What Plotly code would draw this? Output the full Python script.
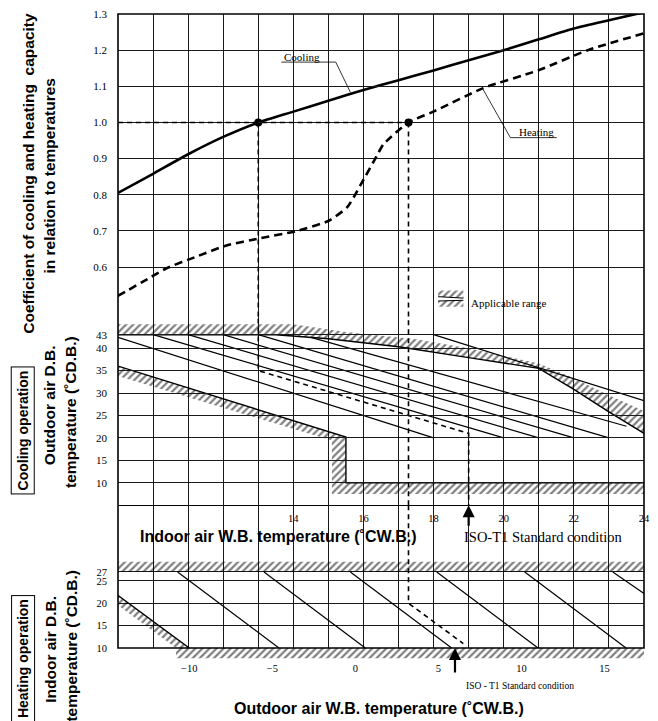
import plotly.graph_objects as go

# ---------------- data ----------------
# capacity coefficient curves
cool_wb = [9, 10, 11, 12, 13, 14, 15, 16, 17, 18, 19, 20, 21, 22, 23, 24]
cool_coef = [0.805, 0.858, 0.912, 0.960, 1.000, 1.030, 1.060, 1.090, 1.117, 1.144,
             1.172, 1.200, 1.230, 1.260, 1.283, 1.305]

heat_wb = [-14.3, -12.5, -11.4, -9.5, -7.8, -5.7, -3.6, -1.6, -0.5, -0.1, 0.4,
           1.3, 1.7, 3.2, 4.7, 7.7, 11.0, 14.0, 17.4]
heat_coef = [0.52, 0.567, 0.596, 0.630, 0.659, 0.680, 0.699, 0.728, 0.765, 0.793,
             0.834, 0.908, 0.940, 1.000, 1.030, 1.095, 1.144, 1.200, 1.247]

# standard points (coefficient 1.0)
cool_std_wb, heat_std_wb, std_coef = 13.0, 3.2, 1.0

# cooling operation: indoor W.B. vs outdoor D.B.
cool_line_wb0 = [9.0, 10.0, 11.0, 12.0, 13.0, 14.5, 18.0]
cool_line_t0 = [42.4, 43, 43, 43, 43, 42.4, 43]
cool_line_wb1 = [18.0, 20.0, 21.0, 22.0, 23.0, 23.5, 24.0]
cool_line_t1 = [20, 20, 20, 20, 20, 22.6, 28.3]

cool_upper_wb = [9, 13.5, 15, 17, 19, 21, 22, 23, 24]
cool_upper_t = [43, 43, 42.1, 40.3, 37.9, 35.5, 30.8, 25.8, 21]
cool_upper_edge_wb = [24, 23, 22, 21, 19, 17.5, 15.5, 14, 9]
cool_upper_edge_t = [26.0, 29.5, 33.3, 36.6, 40.0, 42.0, 43.6, 45.3, 45.3]

cool_lower_wb = [9, 15.5, 15.5, 24]
cool_lower_t = [36, 20.2, 10, 10]
cool_lower_edge_wb = [24, 15.1, 15.1, 9]
cool_lower_edge_t = [7.5, 7.5, 19.4, 33.8]

cool_guide_wb = [13, 13, 19, 19]
cool_guide_t = [46.6, 35, 21, 5]
cool_iso_wb = 19

# heating operation: outdoor W.B. vs indoor D.B.
heat_line_wb0 = [-10.7, -5.5, -0.3, 4.9, 10.2, 15.5]
heat_line_t0 = [27, 27, 27, 27, 27, 27]
heat_line_wb1 = [-4.6, 0.6, 5.8, 11.0, 16.3, 17.38]
heat_line_t1 = [10, 10, 10, 10, 10, 22.2]

heat_bound_wb = [-14.3, -10.0]
heat_bound_t = [21.8, 10]
heat_bound_edge_wb = [-10.8, -14.3]
heat_bound_edge_t = [10, 19.6]

heat_top_t, heat_top_edge_t = 27, 29.3
heat_guide_wb = [3.2, 3.2, 6.5]
heat_guide_t = [41.9, 20, 11]
heat_iso_wb = 6

coef_ticks = [0.6, 0.7, 0.8, 0.9, 1.0, 1.1, 1.2, 1.3]
cool_t_ticks = [5, 10, 15, 20, 25, 30, 35, 40, 43]
heat_t_ticks = [10, 15, 20, 25, 27]
indoor_ticks = list(range(9, 25))
indoor_labels = {14, 16, 18, 20, 22, 24}
outdoor_ticks = [-10, -5, 0, 5, 10, 15]

# ---------------- layout geometry (page pixels) ----------------
W, H = 658, 721
LEFT, RIGHT, TOP, BOTTOM = 118, 650, 13, 660
Y_COEF = [0.4575, 1.3001]
Y_COOL = [5, 46.6]
Y_HEAT = [10, 41.9]
X_IN = [9, 24.0001]
X_OUT = [-14.29, 17.38]


def fx(p):
    return (p - LEFT) / (RIGHT - LEFT)


def fy(p):
    return (BOTTOM - p) / (BOTTOM - TOP)


SERIF = "Liberation Serif, Times New Roman, serif"
SANS = "Liberation Sans, Arial, sans-serif"


def segments(x0, y0, x1, y1, xa, ya, width=1.2, dash="solid"):
    xs, ys = [], []
    for a, b, c, d in zip(x0, y0, x1, y1):
        xs += [a, c, None]
        ys += [b, d, None]
    return go.Scatter(x=xs, y=ys, mode="lines", xaxis=xa, yaxis=ya, hoverinfo="skip",
                      line=dict(color="black", width=width, dash=dash))


def line(xs, ys, xa, ya, width=1.4, dash="solid"):
    return go.Scatter(x=xs, y=ys, mode="lines", xaxis=xa, yaxis=ya, hoverinfo="skip",
                      line=dict(color="black", width=width, dash=dash))


def hatch(xs, ys, xa, ya):
    return go.Scatter(x=xs + xs[:1], y=ys + ys[:1], mode="lines", fill="toself",
                      xaxis=xa, yaxis=ya, hoverinfo="skip",
                      line=dict(width=0, color="rgba(0,0,0,0)"),
                      fillcolor="rgba(0,0,0,0)",
                      fillpattern=dict(shape="/", fgcolor="black", bgcolor="rgba(0,0,0,0)",
                                       size=5, solidity=0.45))


fig = go.Figure()

# empty trace so the indoor grid is drawn in the heating panel too
fig.add_trace(go.Scatter(x=X_IN, y=[Y_HEAT[0]] * 2, mode="lines", xaxis="x", yaxis="y3",
                         line=dict(width=0), hoverinfo="skip"))

# ---- cooling operation panel ----
fig.add_trace(hatch(cool_upper_wb + cool_upper_edge_wb, cool_upper_t + cool_upper_edge_t, "x", "y2"))
fig.add_trace(hatch(cool_lower_wb + cool_lower_edge_wb, cool_lower_t + cool_lower_edge_t, "x", "y2"))
fig.add_trace(line(cool_upper_wb, cool_upper_t, "x", "y2"))
fig.add_trace(line(cool_lower_wb, cool_lower_t, "x", "y2"))
fig.add_trace(segments(cool_line_wb0, cool_line_t0, cool_line_wb1, cool_line_t1, "x", "y2"))

# ---- heating operation panel ----
fig.add_trace(hatch([X_OUT[0], X_OUT[1], X_OUT[1], X_OUT[0]],
                    [heat_top_t, heat_top_t, heat_top_edge_t, heat_top_edge_t], "x2", "y3"))
fig.add_trace(hatch(heat_bound_wb + heat_bound_edge_wb, heat_bound_t + heat_bound_edge_t, "x2", "y3"))
fig.add_trace(hatch([heat_bound_edge_wb[0], X_OUT[1], X_OUT[1], heat_bound_edge_wb[0]],
                    [0.15, 0.15, 1, 1], "x2", "y4"))
fig.add_trace(line(heat_bound_wb, heat_bound_t, "x2", "y3"))
fig.add_trace(segments(heat_line_wb0, heat_line_t0, heat_line_wb1, heat_line_t1, "x2", "y3"))

# ---- guide lines (dashed) ----
GD = dict(width=1.6, dash="5px,4px")
fig.add_trace(line([X_OUT[0], heat_std_wb], [std_coef, std_coef], "x2", "y", **GD))
fig.add_trace(line([cool_std_wb, cool_std_wb], [std_coef, Y_COEF[0]], "x", "y", **GD))
fig.add_trace(line(cool_guide_wb, cool_guide_t, "x", "y2", **GD))
fig.add_trace(line([heat_std_wb, heat_std_wb], [std_coef, Y_COEF[0]], "x2", "y", **GD))
fig.add_trace(line([heat_std_wb, heat_std_wb], Y_COOL, "x2", "y2", **GD))
fig.add_trace(line(heat_guide_wb, heat_guide_t, "x2", "y3", **GD))

# ---- capacity curves ----
fig.add_trace(go.Scatter(x=cool_wb, y=cool_coef, mode="lines", xaxis="x", yaxis="y",
                         line=dict(color="black", width=2.6, shape="spline", smoothing=0.6),
                         hoverinfo="skip"))
fig.add_trace(go.Scatter(x=heat_wb, y=heat_coef, mode="lines", xaxis="x2", yaxis="y",
                         line=dict(color="black", width=2.6, dash="8px,5px", shape="spline",
                                   smoothing=0.6),
                         hoverinfo="skip"))
fig.add_trace(go.Scatter(x=[cool_std_wb], y=[std_coef], mode="markers", xaxis="x", yaxis="y",
                         marker=dict(color="black", size=8), hoverinfo="skip"))
fig.add_trace(go.Scatter(x=[heat_std_wb], y=[std_coef], mode="markers", xaxis="x2", yaxis="y",
                         marker=dict(color="black", size=8), hoverinfo="skip"))

# ---- "Applicable range" key ----
fig.add_trace(hatch([18.13, 18.85, 18.85, 18.13], [0.518, 0.514, 0.535, 0.535], "x", "y"))
fig.add_trace(hatch([18.13, 18.85, 18.85, 18.13], [0.506, 0.508, 0.490, 0.490], "x", "y"))
fig.add_trace(line([18.13, 18.85], [0.518, 0.514], "x", "y", width=1))
fig.add_trace(line([18.13, 18.85], [0.506, 0.508], "x", "y", width=1))

TICKFONT = dict(family=SERIF, size=11, color="black")
GRID = dict(showgrid=True, gridcolor="#1a1a1a", gridwidth=1, zeroline=False, ticks="")

fig.update_layout(
    width=W, height=H, autosize=False,
    margin=dict(l=LEFT, r=W - RIGHT, t=TOP, b=H - BOTTOM, pad=0),
    paper_bgcolor="white", plot_bgcolor="rgba(0,0,0,0)",
    showlegend=False,
    xaxis=dict(domain=[0, 1], range=X_IN, anchor="y2", tickvals=indoor_ticks,
               ticktext=[str(v) if v in indoor_labels else "" for v in indoor_ticks],
               tickfont=dict(family=SERIF, size=10.5, color="black"),
               showline=True, linecolor="black", linewidth=1.3, ticklabelstandoff=3, **GRID),
    xaxis2=dict(domain=[0, 1], range=X_OUT, anchor="y4", tickvals=outdoor_ticks,
                tickfont=dict(family=SERIF, size=10.5, color="black"),
                showgrid=False, zeroline=False, ticks="", showline=False),
    yaxis=dict(domain=[fy(318), 1], range=Y_COEF, anchor="x", tickvals=coef_ticks,
               ticktext=[f"{v:.1f}" for v in coef_ticks], tickfont=TICKFONT,
               ticklabelstandoff=10, **GRID),
    yaxis2=dict(domain=[fy(505), fy(318)], range=Y_COOL, anchor="x", tickvals=cool_t_ticks,
                ticktext=["" if v == 5 else str(v) for v in cool_t_ticks], tickfont=TICKFONT,
                ticklabelstandoff=10, **GRID),
    yaxis3=dict(domain=[fy(648), fy(505)], range=Y_HEAT, anchor="x", tickvals=heat_t_ticks,
                tickfont=dict(family=SERIF, size=10.5, color="black"),
                ticklabelstandoff=10, **GRID),
    yaxis4=dict(domain=[0, fy(648)], range=[0, 1], anchor="x2", visible=False),
)

# outer frame
fig.add_shape(type="rect", xref="paper", yref="paper", x0=0, x1=1, y0=fy(648), y1=1,
              line=dict(color="black", width=1.6), layer="above")

# leader lines for curve labels
fig.add_shape(type="path", xref="x", yref="y", path="M 13.66 1.167 L 15.21 1.167 L 15.63 1.083",
              line=dict(color="black", width=0.8))
fig.add_shape(type="path", xref="x", yref="y", path="M 21.51 0.958 L 20.19 0.958 L 19.39 1.095",
              line=dict(color="black", width=0.8))

ann = []


def side_text(text, x, y, size=15.5, box=False):
    d = dict(text=f"<b>{text}</b>", xref="paper", yref="paper", x=fx(x), y=fy(y),
             textangle=-90, showarrow=False, xanchor="center", yanchor="middle",
             font=dict(family=SANS, size=size, color="black"))
    if box:
        d.update(bordercolor="black", borderwidth=1, borderpad=3)
    ann.append(d)


side_text("Coefficient of cooling and heating  capacity", 28, 173)
side_text("in relation to temperatures", 49, 175)
side_text("Cooling operation", 22, 430, size=14, box=True)
side_text("Outdoor air D.B.", 49, 405)
side_text("temperature (˚CD.B.)", 70, 412)
side_text("Heating operation", 22, 659, size=14, box=True)
side_text("Indoor air D.B.", 49, 649)
side_text("temperature (˚CD.B.)", 70, 646)

ann.append(dict(text="<b>Indoor air W.B. temperature (˚CW.B.)</b>", xref="paper", yref="paper",
                x=fx(280), y=fy(536), showarrow=False, xanchor="center", yanchor="middle",
                font=dict(family=SANS, size=16, color="black")))
ann.append(dict(text="<b>Outdoor air W.B. temperature (˚CW.B.)</b>", xref="paper", yref="paper",
                x=fx(382), y=fy(709), showarrow=False, xanchor="center", yanchor="middle",
                font=dict(family=SANS, size=16, color="black")))

serif_notes = [
    ("Cooling", 304, 56, 11, "center"),
    ("Heating", 541.5, 131, 11, "center"),
    ("Applicable range", 473, 302.7, 11, "left"),
    ("ISO-T1 Standard condition", 466, 537, 14.5, "left"),
    ("ISO - T1 Standard condition", 468, 686, 9.5, "left"),
]
for text, x, y, size, anchor in serif_notes:
    ann.append(dict(text=text, xref="paper", yref="paper", x=fx(x), y=fy(y), showarrow=False,
                    xanchor=anchor, yanchor="middle",
                    font=dict(family=SERIF, size=size, color="black")))

# standard-condition arrows
ann.append(dict(text="", x=cool_iso_wb, y=Y_COOL[0], xref="x", yref="y2", showarrow=True,
                arrowhead=2, arrowsize=1.1, arrowwidth=2.2, arrowcolor="black", ax=0, ay=22))
ann.append(dict(text="", x=heat_iso_wb, y=Y_HEAT[0], xref="x2", yref="y3", showarrow=True,
                arrowhead=2, arrowsize=1.1, arrowwidth=2.2, arrowcolor="black", ax=0, ay=26))

fig.update_layout(annotations=ann)
fig.write_html("out.html", config={"displayModeBar": False, "responsive": False},
               post_script="document.body.style.margin='0';document.body.style.overflow='hidden';")
